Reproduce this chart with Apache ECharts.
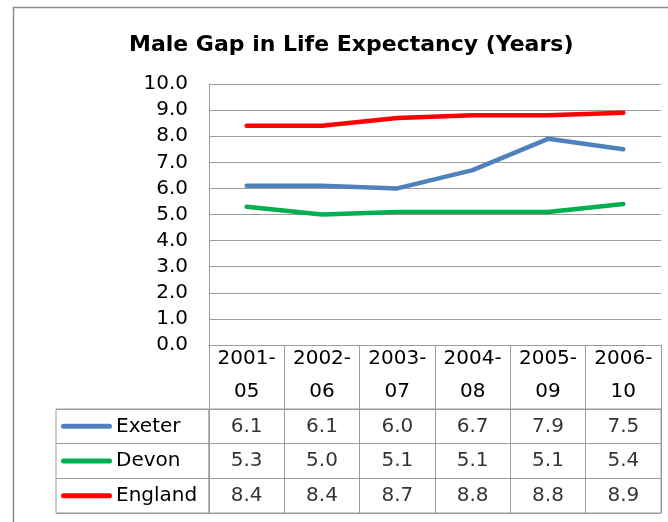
<!DOCTYPE html>
<html>
<head>
<meta charset="utf-8">
<script src="https://cdn.jsdelivr.net/npm/echarts@6/dist/echarts.min.js"></script>
<style>
  html, body { margin: 0; padding: 0; background: #fff; }
  #myChart { width: 668px; height: 522px; }
</style>
</head>
<body>
<div id="myChart"></div>
<script>
// categories (two-line period labels)
const periods = ['2001-\n05', '2002-\n06', '2003-\n07', '2004-\n08', '2005-\n09', '2006-\n10']
// series names and values
const seriesNames = ['Exeter', 'Devon', 'England']
const exeter = [6.1, 6.1, 6.0, 6.7, 7.9, 7.5]
const devon = [5.3, 5.0, 5.1, 5.1, 5.1, 5.4]
const england = [8.4, 8.4, 8.7, 8.8, 8.8, 8.9]
const values = [exeter, devon, england]
const colors = ['#4F81BD', '#00B050', '#FF0000']

const font = 'DejaVu Sans'
const gridColor = '#9c9c9c'

const myChart = echarts.init(document.getElementById('myChart'))

// line series for the plot
const lines = seriesNames.map(function(name, i) {
  return {
    name: name,
    type: 'line',
    xAxisIndex: 0,
    yAxisIndex: 0,
    symbol: 'none',
    lineStyle: { width: 4.5, color: colors[i], cap: 'round', join: 'round' },
    itemStyle: { color: colors[i] },
    data: values[i]
  }
})

// data table cells: [column, row, value]
const cells = []
values.forEach(function(row, r) {
  row.forEach(function(v, c) {
    cells.push([c, r, v])
  })
})

// rich styles for the legend keys in the table
const rich = {
  t: { fontFamily: font, fontSize: 20, color: '#000', padding: [0, 0, 0, 4] }
}
colors.forEach(function(c, i) {
  rich['l' + i] = { width: 51, height: 5, backgroundColor: c, borderRadius: 2.5, verticalAlign: 'middle' }
})

const option = {
  animation: false,
  title: {
    text: 'Male Gap in Life Expectancy (Years)',
    left: 124,
    top: 29,
    textStyle: { fontFamily: font, fontSize: 22, fontWeight: 'bold', color: '#000' }
  },
  graphic: [{
    type: 'rect',
    shape: { x: 13.5, y: 7.5, width: 700, height: 600 },
    style: { fill: null, stroke: '#8c8c8c', lineWidth: 1.5 },
    silent: true
  }],
  grid: [
    { left: 209, right: 7, top: 84, bottom: 177, outerBoundsMode: 'none' },
    { left: 209, right: 7, top: 409, height: 104, outerBoundsMode: 'none', show: true, borderColor: gridColor, borderWidth: 1 },
    { left: 56, width: 153, top: 409, height: 104, outerBoundsMode: 'none', show: true, borderColor: gridColor, borderWidth: 1 }
  ],
  xAxis: [
    {
      type: 'category',
      gridIndex: 0,
      data: periods,
      boundaryGap: true,
      axisLine: { lineStyle: { color: gridColor, width: 1 } },
      axisTick: { show: true, interval: 0, length: 64, lineStyle: { color: gridColor } },
      axisLabel: {
        interval: 0,
        margin: 30,
        verticalAlign: 'middle',
        lineHeight: 33,
        fontFamily: font,
        fontSize: 20,
        color: '#000'
      }
    },
    {
      type: 'category',
      gridIndex: 1,
      data: periods,
      boundaryGap: true,
      axisLine: { show: false },
      axisTick: { show: false },
      axisLabel: { show: false },
      splitLine: { show: true, interval: 0, lineStyle: { color: gridColor } }
    },
    {
      type: 'value',
      gridIndex: 2,
      show: false
    }
  ],
  yAxis: [
    {
      type: 'value',
      gridIndex: 0,
      min: 0,
      max: 10,
      interval: 1,
      axisLine: { show: true, lineStyle: { color: gridColor } },
      axisTick: { show: false },
      splitLine: { lineStyle: { color: gridColor } },
      axisLabel: {
        margin: 21,
        fontFamily: font,
        fontSize: 20,
        color: '#000',
        formatter: function(v) { return v.toFixed(1) }
      }
    },
    {
      type: 'category',
      gridIndex: 1,
      inverse: true,
      data: seriesNames,
      axisLine: { show: false },
      axisTick: { show: false },
      axisLabel: { show: false },
      splitLine: { show: true, interval: 0, lineStyle: { color: gridColor } }
    },
    {
      type: 'category',
      gridIndex: 2,
      inverse: true,
      data: seriesNames,
      axisLine: { show: false },
      axisTick: { show: false },
      splitLine: { show: true, interval: 0, lineStyle: { color: gridColor } },
      axisLabel: {
        inside: true,
        margin: 5,
        align: 'left',
        formatter: function(name, i) {
          return '{l' + i + '|}{t|' + name + '}'
        },
        rich: rich
      }
    }
  ],
  series: lines.concat([{
    type: 'scatter',
    xAxisIndex: 1,
    yAxisIndex: 1,
    symbolSize: 0,
    silent: true,
    label: {
      show: true,
      position: 'inside',
      fontFamily: font,
      fontSize: 20,
      color: '#000',
      formatter: function(p) { return p.value[2].toFixed(1) }
    },
    data: cells
  }])
}

myChart.setOption(option)
</script>
</body>
</html>
